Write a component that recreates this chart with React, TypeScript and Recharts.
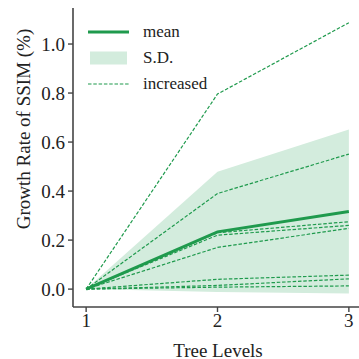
import React from "react";
import { ComposedChart, Area, Line, XAxis, YAxis } from "recharts";

// Tree depth levels on the x axis
const levels = [1, 2, 3];

// Growth rate of SSIM (%) for each run, at tree levels 1, 2, 3
const run1 = [0, 0.796, 1.087];
const run2 = [0, 0.39, 0.551];
const run3 = [0, 0.23, 0.275];
const run4 = [0, 0.22, 0.26];
const run5 = [0, 0.17, 0.248];
const run6 = [0, 0.04, 0.057];
const run7 = [0, 0.015, 0.042];
const run8 = [0, 0.008, 0.013];
const runs = [run1, run2, run3, run4, run5, run6, run7, run8];

const yTicks = [0, 0.2, 0.4, 0.6, 0.8, 1.0];

const GREEN = "#1f9a4d";
const BAND = "#d3ecdd";
const AXIS = "#444";
const FONT = "Times New Roman, Times, serif";

// mean and standard deviation across runs at each level
const rows = levels.map((level, i) => {
  const vals = runs.map((r) => r[i]);
  const mean = vals.reduce((a, b) => a + b, 0) / vals.length;
  const sd = Math.sqrt(vals.reduce((a, b) => a + (b - mean) * (b - mean), 0) / vals.length);
  const row: Record<string, number | number[]> = { level, mean, band: [mean - sd, mean + sd] };
  runs.forEach((r, k) => {
    row[`run${k}`] = r[i];
  });
  return row;
});

const tickStyle = { fill: "#222", fontSize: 19, fontFamily: FONT };

function LegendBox() {
  const item = (y: number, swatch: React.ReactNode, label: string) => (
    <div style={{ position: "absolute", left: 86, top: y - 13, height: 26, display: "flex", alignItems: "center" }}>
      <svg width={46} height={26} style={{ display: "block" }}>{swatch}</svg>
      <span style={{ marginLeft: 11, fontFamily: FONT, fontSize: 17, color: "#222", lineHeight: "26px" }}>{label}</span>
    </div>
  );
  return (
    <div style={{ position: "absolute", left: 0, top: 0, pointerEvents: "none" }}>
      {item(32, <line x1={2} x2={43} y1={13} y2={13} stroke={GREEN} strokeWidth={3} />, "mean")}
      {item(58, <rect x={4} y={6.5} width={37} height={13} fill={BAND} />, "S.D.")}
      {item(84, <line x1={2} x2={43} y1={13} y2={13} stroke={GREEN} strokeWidth={1.2} strokeDasharray="3.5 1.8" />, "increased")}
    </div>
  );
}

export default function App() {
  return (
    <div style={{ position: "absolute", left: 0, top: 0, width: 359, height: 359, overflow: "hidden", background: "#fff" }}>
      <ComposedChart width={362} height={359} data={rows} margin={{ top: 8, right: 0, bottom: 0, left: 0 }}>
        <XAxis
          dataKey="level"
          type="number"
          domain={[0.9, 3.1]}
          ticks={levels}
          allowDataOverflow
          height={52}
          axisLine={{ stroke: AXIS, strokeWidth: 1.6 }}
          tickLine={{ stroke: AXIS, strokeWidth: 1.4 }}
          tickSize={5}
          tickMargin={2}
          tick={tickStyle}
          label={{
            content: () => (
              <text x={218} y={350} textAnchor="middle" dominantBaseline="central" fill="#222" fontSize={19} fontFamily={FONT}>
                Tree Levels
              </text>
            ),
          }}
        />
        <YAxis
          type="number"
          domain={[-0.073, 1.147]}
          ticks={yTicks}
          allowDataOverflow
          width={73}
          axisLine={{ stroke: AXIS, strokeWidth: 1.6 }}
          tickLine={{ stroke: AXIS, strokeWidth: 1.4 }}
          tickSize={5}
          tickMargin={3}
          tick={tickStyle}
          tickFormatter={(v: number) => v.toFixed(1)}
          label={{
            content: () => (
              <text
                x={23}
                y={129}
                transform="rotate(-90, 23, 129)"
                textAnchor="middle"
                dominantBaseline="central"
                fill="#222"
                fontSize={19}
                fontFamily={FONT}
              >
                Growth Rate of SSIM (%)
              </text>
            ),
          }}
        />
        <Area dataKey="band" type="linear" fill={BAND} fillOpacity={1} stroke="none" isAnimationActive={false} />
        {runs.map((_, k) => (
          <Line
            key={k}
            dataKey={`run${k}`}
            type="linear"
            stroke={GREEN}
            strokeWidth={1.2}
            strokeDasharray="3.5 1.8"
            dot={false}
            activeDot={false}
            isAnimationActive={false}
          />
        ))}
        <Line dataKey="mean" type="linear" stroke={GREEN} strokeWidth={3} dot={false} activeDot={false} isAnimationActive={false} />
      </ComposedChart>
      <LegendBox />
    </div>
  );
}
